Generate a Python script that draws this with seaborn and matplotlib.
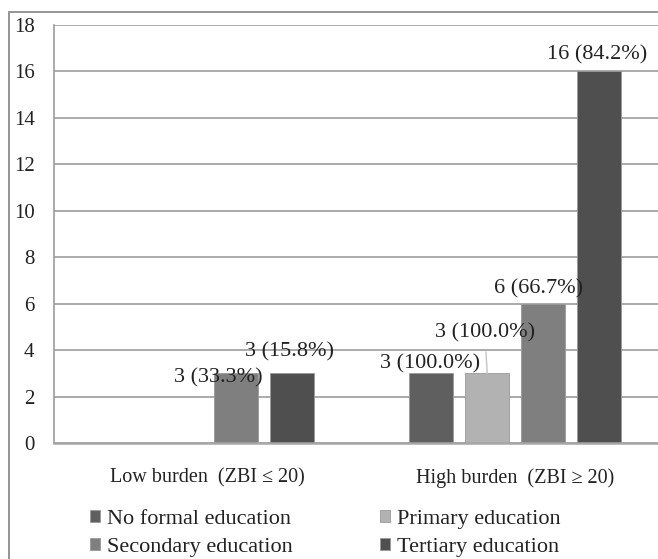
import matplotlib
matplotlib.use("Agg")
import matplotlib.pyplot as plt
from matplotlib.patches import Rectangle
import pandas as pd
import seaborn as sns

# Caregiver burden groups and education levels
groups = ["Low burden  (ZBI \u2264 20)", "High burden  (ZBI \u2265 20)"]
levels = ["No formal education", "Primary education",
          "Secondary education", "Tertiary education"]

# Number of caregivers per education level in each burden group
low_counts = [0, 0, 3, 3]
high_counts = [3, 3, 6, 16]

# Percentage of each education level falling in the group
low_pct = [None, None, 33.3, 15.8]
high_pct = [100.0, 100.0, 66.7, 84.2]

yticks = [0, 2, 4, 6, 8, 10, 12, 14, 16, 18]

palette = ["#5f5f5f", "#b2b2b2", "#7f7f7f", "#4f4f4f"]

rows = []
for g, counts, pcts in [(groups[0], low_counts, low_pct),
                        (groups[1], high_counts, high_pct)]:
    for lvl, c, p in zip(levels, counts, pcts):
        rows.append({"group": g, "level": lvl, "count": c, "pct": p})
df = pd.DataFrame(rows)

sns.set_theme(style="white")
plt.rcParams["font.family"] = ["Liberation Serif", "DejaVu Serif"]
plt.rcParams["text.color"] = "#222222"

W, H = 658, 559
fig = plt.figure(figsize=(W / 100, H / 100), dpi=100)
fig.patch.set_facecolor("white")

# Axes placed in pixel terms; the right side runs past the canvas edge
left, bottom, right, top = 54, 443, 669, 25
ax = fig.add_axes([left / W, (H - bottom) / H, (right - left) / W, (bottom - top) / H])

sns.barplot(data=df, x="group", y="count", hue="level", order=groups,
            hue_order=levels, palette=palette, width=0.728, gap=0.214,
            edgecolor="#9a9a9a", linewidth=0.6, ax=ax, legend=True,
            saturation=1)

ax.set_xlim(-0.5, 1.5)
ax.set_ylim(0, 18)
ax.set_yticks(yticks)
ax.set_xlabel("")
ax.set_ylabel("")
ax.yaxis.grid(True, color="#9c9c9c", linewidth=1.2)
ax.set_axisbelow(True)
for side in ["top", "right"]:
    ax.spines[side].set_visible(False)
ax.spines["left"].set_color("#9c9c9c")
ax.spines["left"].set_linewidth(1.2)
ax.spines["bottom"].set_color("#a6a6a6")
ax.spines["bottom"].set_linewidth(1.8)
ax.tick_params(axis="y", length=0, pad=14, labelsize=15, labelcolor="#222222")
ax.tick_params(axis="x", length=0, pad=18, labelsize=14.5, labelcolor="#222222")

# Data label offsets (pixels) from each bar's top centre
offsets = {
    (2, 0): (-17.5, -5), (3, 0): (-2, 21),
    (0, 1): (-1.5, 9), (1, 1): (-2.5, 40),
    (2, 1): (-4.5, 15), (3, 1): (-2.5, 17),
}
pct_by_group = [low_pct, high_pct]
for i, cont in enumerate(ax.containers):
    for j, bar in enumerate(cont):
        pct = pct_by_group[j][i]
        if pct is None:
            continue
        h = bar.get_height()
        xc = bar.get_x() + bar.get_width() / 2
        dx, dy = offsets[(i, j)]
        kw = {}
        if (i, j) == (1, 1):
            kw["arrowprops"] = dict(arrowstyle="-", color="#c4c4c4", lw=1,
                                    shrinkA=4, shrinkB=0)
        ax.annotate(f"{int(h)} ({pct:.1f}%)", xy=(xc, h), xytext=(dx, dy),
                    textcoords="offset pixels", ha="center", va="center",
                    fontsize=16, color="#222222", zorder=5, **kw)

# Legend below the plot, two columns laid out row-wise
handles, labels = ax.get_legend_handles_labels()
ax.get_legend().remove()
order = [0, 2, 1, 3]
fig.legend([handles[k] for k in order], [labels[k] for k in order],
           ncol=2, loc="upper left", bbox_to_anchor=(90 / W, 1 - 510 / H),
           frameon=False, fontsize=16, handlelength=0.45, handleheight=0.45,
           handletextpad=0.3, columnspacing=3.95, labelspacing=0.42,
           borderpad=0, borderaxespad=0)

# Chart-area border
fig.patches.append(Rectangle((9 / W, -0.1), 1.2, (H - 12) / H + 0.1,
                             transform=fig.transFigure, fill=False,
                             edgecolor="#8c8c8c", linewidth=1.3))

fig.savefig("out.png", dpi=100)
